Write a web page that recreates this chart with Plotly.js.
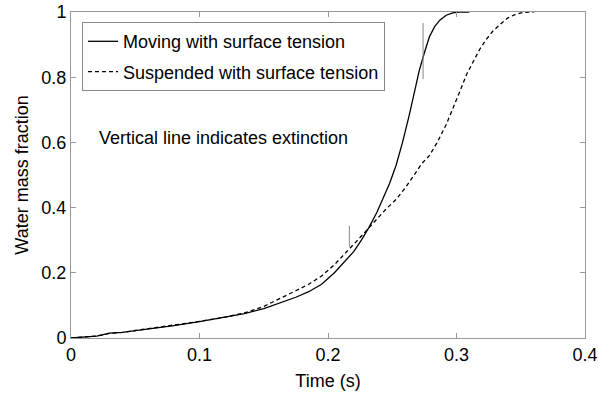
<!DOCTYPE html>
<html>
<head>
<meta charset="utf-8">
<script src="https://cdn.plot.ly/plotly-3.0.1.min.js"></script>
<style>html,body{margin:0;padding:0;background:#fff;}#chart{width:598px;height:398px;}</style>
</head>
<body>
<div id="chart"></div>
<script>
const movingT = [0, 0.01, 0.02, 0.025, 0.03, 0.04, 0.05, 0.065, 0.08, 0.1, 0.12, 0.135, 0.15, 0.165, 0.175, 0.185, 0.195, 0.205, 0.213, 0.22, 0.226, 0.232, 0.238, 0.243, 0.248, 0.253, 0.258, 0.263, 0.267, 0.271, 0.275, 0.279, 0.283, 0.287, 0.292, 0.297, 0.302, 0.31];
const movingY = [0, 0.002, 0.006, 0.01, 0.015, 0.017, 0.022, 0.03, 0.038, 0.05, 0.063, 0.075, 0.09, 0.11, 0.125, 0.142, 0.165, 0.2, 0.235, 0.265, 0.3, 0.34, 0.385, 0.43, 0.475, 0.53, 0.6, 0.68, 0.75, 0.82, 0.875, 0.925, 0.955, 0.975, 0.99, 0.997, 1, 1];

const suspT = [0, 0.01, 0.02, 0.03, 0.04, 0.05, 0.065, 0.08, 0.1, 0.12, 0.135, 0.15, 0.165, 0.175, 0.185, 0.195, 0.205, 0.215, 0.223, 0.23, 0.237, 0.245, 0.253, 0.26, 0.267, 0.273, 0.279, 0.285, 0.292, 0.298, 0.303, 0.308, 0.313, 0.318, 0.323, 0.328, 0.334, 0.34, 0.346, 0.352, 0.36];
const suspY = [0, 0.002, 0.006, 0.014, 0.017, 0.023, 0.031, 0.039, 0.051, 0.064, 0.077, 0.097, 0.125, 0.145, 0.165, 0.19, 0.225, 0.265, 0.3, 0.33, 0.36, 0.395, 0.425, 0.46, 0.5, 0.535, 0.56, 0.6, 0.655, 0.71, 0.76, 0.81, 0.85, 0.885, 0.915, 0.94, 0.962, 0.982, 0.993, 0.999, 1];

const extMovingT = [0.274, 0.274];
const extMovingY = [0.794, 0.966];
const extSuspT = [0.2166, 0.2166];
const extSuspY = [0.279, 0.344];

const seriesNames = ["Moving with surface tension", "Suspended with surface tension"];
const noteText = "Vertical line indicates extinction";
const xTicks = [0, 0.1, 0.2, 0.3, 0.4];
const xTickText = ["0", "0.1", "0.2", "0.3", "0.4"];
const yTicks = [0, 0.2, 0.4, 0.6, 0.8, 1];
const yTickText = ["0", "0.2", "0.4", "0.6", "0.8", "1"];

const font = "Liberation Sans, Arial, sans-serif";
const traces = [
  {x: movingT, y: movingY, mode: "lines", name: seriesNames[0], legendgroup: "a",
   line: {color: "#000", width: 1.3, dash: "solid"}},
  {x: suspT, y: suspY, mode: "lines", name: seriesNames[1], legendgroup: "b",
   line: {color: "#000", width: 1.3, dash: "4px,3px"}},
  {x: extMovingT, y: extMovingY, mode: "lines", showlegend: false, hoverinfo: "skip",
   line: {color: "#888", width: 1}},
  {x: extSuspT, y: extSuspY, mode: "lines", showlegend: false, hoverinfo: "skip",
   line: {color: "#888", width: 1}}
];
const axisCommon = {
  showgrid: false, zeroline: false, showline: true, linecolor: "#999", linewidth: 1,
  mirror: "ticks", ticks: "inside", ticklen: 5, tickcolor: "#999", tickwidth: 1,
  tickfont: {family: font, size: 18, color: "#000"}
};
const layout = {
  width: 598, height: 398,
  margin: {l: 71, r: 13, t: 12, b: 60},
  paper_bgcolor: "#fff", plot_bgcolor: "#fff",
  font: {family: font, color: "#000"},
  showlegend: true,
  legend: {x: 0.0214, y: 0.969, xanchor: "left", yanchor: "top",
    bgcolor: "#fff", bordercolor: "#888", borderwidth: 1,
    font: {family: font, size: 18, color: "#000"}, tracegroupgap: 4},
  xaxis: Object.assign({}, axisCommon, {range: [0, 0.4], tickvals: xTicks, ticktext: xTickText,
    title: {text: "Time (s)", font: {family: font, size: 18, color: "#000"}, standoff: 10}}),
  yaxis: Object.assign({}, axisCommon, {range: [0, 1], tickvals: yTicks, ticktext: yTickText,
    title: {text: "Water mass fraction", font: {family: font, size: 18, color: "#000"}, standoff: 8}}),
  annotations: [{xref: "paper", yref: "paper", x: 0.0506, y: 0.613, xanchor: "left", yanchor: "middle",
    text: noteText, showarrow: false, font: {family: font, size: 18, color: "#000"}}]
};
Plotly.newPlot("chart", traces, layout, {displayModeBar: false, staticPlot: true});
</script>
</body>
</html>
